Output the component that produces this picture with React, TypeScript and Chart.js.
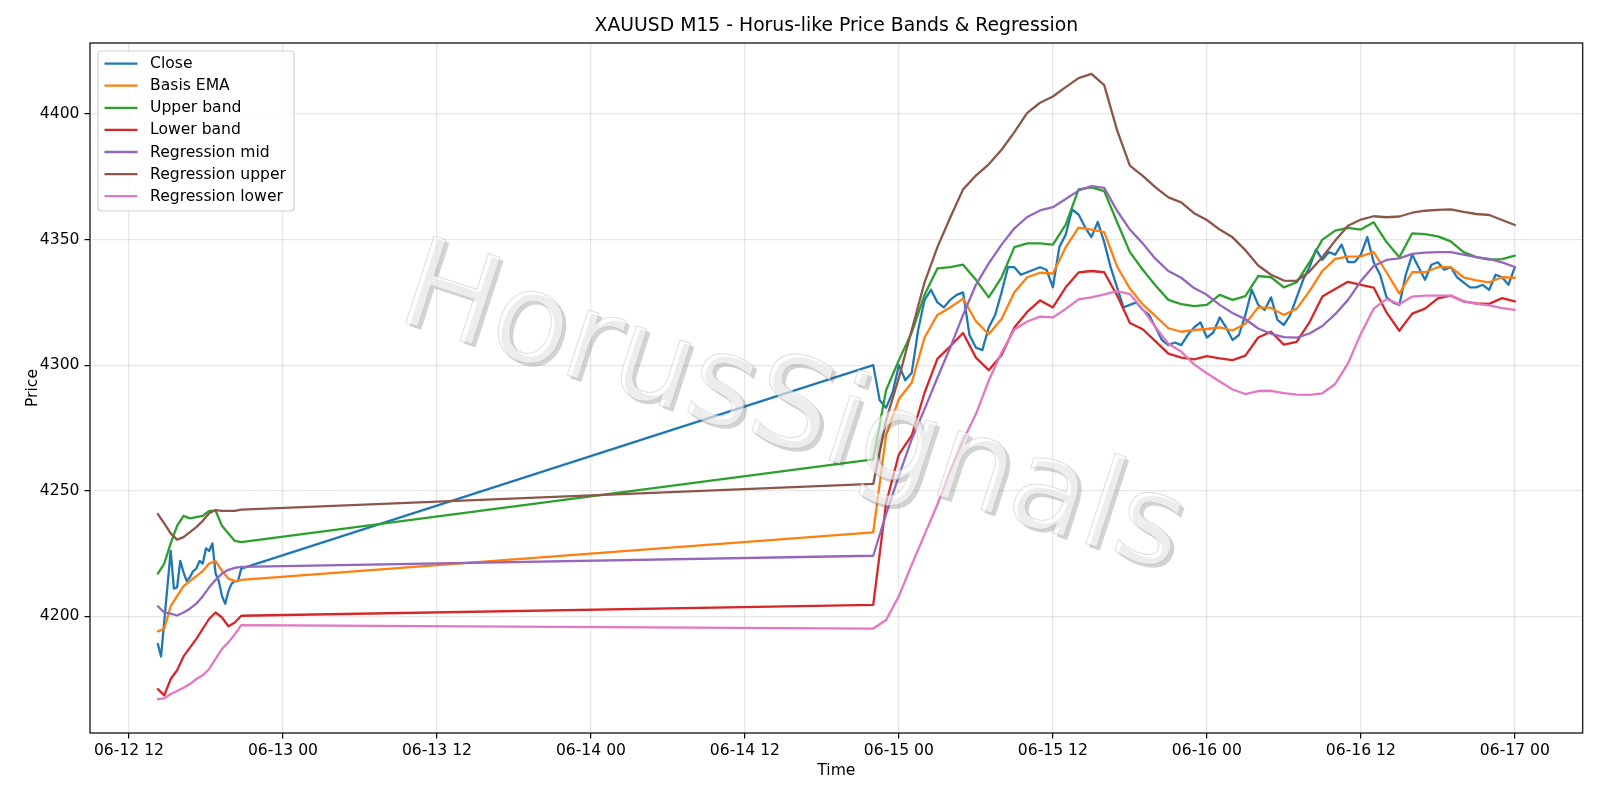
import React, { useEffect, useRef } from 'react';
import { Chart, registerables } from 'chart.js';

Chart.register(...registerables);

const FONT = 'DejaVu Sans';
const TITLE = 'XAUUSD M15 - Horus-like Price Bands & Regression';
const WATERMARK = 'HorusSignals';
const X_TITLE = 'Time';
const Y_TITLE = 'Price';

// x axis: hours since 06-12 00:00
const xTickHours = [12, 24, 36, 48, 60, 72, 84, 96, 108, 120];
const xTickLabels = ['06-12 12', '06-13 00', '06-13 12', '06-14 00', '06-14 12', '06-15 00', '06-15 12', '06-16 00', '06-16 12', '06-17 00'];
const yTicks = [4200, 4250, 4300, 4350, 4400];

const seg1Start = 14.25; // 06-12 14:15
const seg2Start = 70; // 06-14 22:00
const closeStep1 = 0.25;
const closeStep2 = 0.5;
const bandStep1 = 0.5;
const bandStep2 = 1;

const closeSeg1 = [4189, 4184, 4198, 4212, 4226, 4211, 4211.5, 4222, 4217.5, 4214, 4215.5, 4218, 4219, 4222, 4221, 4227, 4226, 4229, 4217, 4214, 4208, 4205, 4210, 4213, 4214, 4214, 4219];
const closeSeg2 = [
  4300, 4286, 4283, 4289, 4300, 4294, 4297, 4314, 4326, 4330, 4325, 4323, 4326, 4328, 4329, 4312, 4307, 4306, 4315, 4320,
  4329, 4339, 4339, 4336, 4337, 4338, 4339, 4338, 4331, 4347, 4352, 4362, 4360, 4355, 4351, 4357, 4349, 4339, 4331, 4323,
  4324, 4325, 4322, 4320, 4315, 4310, 4308, 4309, 4308, 4312, 4315, 4317, 4311, 4313, 4319, 4315, 4310, 4312, 4320, 4330,
  4324, 4322, 4327, 4318, 4316, 4320, 4327, 4334, 4339, 4346, 4342, 4345, 4344, 4348, 4341, 4341, 4344, 4351, 4341, 4336,
  4327, 4325, 4324, 4336, 4344, 4339, 4334, 4340, 4341, 4338, 4339, 4335, 4333, 4331, 4331, 4332, 4330, 4336, 4335, 4332,
  4339,
];

const basisSeg1 = [4194, 4195, 4204, 4208, 4212, 4214, 4216, 4218, 4221, 4222, 4218, 4215, 4214, 4214.5];
const basisSeg2 = [
  4233.4, 4272, 4286.5, 4293, 4311, 4320, 4323, 4326.5, 4317.5, 4312.3,
  4318.4, 4329, 4335, 4336.8, 4336.5, 4347, 4354.8, 4354, 4353, 4339.3,
  4330.5, 4324.2, 4319.5, 4314.7, 4313.3, 4314, 4314.4, 4315, 4313.8, 4316.5,
  4323, 4322.8, 4320, 4322.5, 4329.5, 4337.5, 4342.3, 4343.2, 4343.3, 4345,
  4337, 4328.5, 4337, 4337, 4339, 4339, 4335, 4333.8, 4333, 4335,
  4334.8,
];

const upperSeg1 = [4217, 4221, 4229, 4236, 4240, 4239, 4239.5, 4240, 4242, 4242, 4236, 4233, 4230, 4229.5];
const upperSeg2 = [
  4262.5, 4290, 4302, 4313, 4328, 4338.5, 4339, 4340, 4334, 4327,
  4335, 4347, 4348.5, 4348.5, 4348, 4356, 4370, 4370.8, 4369.3, 4357,
  4345, 4338, 4331.7, 4326, 4324.3, 4323.5, 4324, 4328, 4326, 4327.5,
  4335.5, 4335, 4331, 4333, 4341, 4350, 4353.6, 4354.7, 4354, 4356.9,
  4349, 4343, 4352.5, 4352.2, 4351.3, 4349.3, 4345, 4343, 4342, 4342.2,
  4343.6,
];

const lowerSeg1 = [4171, 4168.5, 4175, 4178.5, 4184, 4187.5, 4191, 4195, 4199, 4201.5, 4199.5, 4196, 4197.5, 4200.2];
const lowerSeg2 = [
  4204.5, 4245, 4264.5, 4272, 4289, 4302.5, 4307.5, 4312.8, 4303, 4298,
  4304, 4315, 4321.2, 4325.8, 4323, 4331, 4336.9, 4337.5, 4337, 4327.8,
  4316.8, 4314.3, 4309.5, 4304.6, 4303, 4302.3, 4303.6, 4302.7, 4302, 4303.8,
  4311, 4313.3, 4308.2, 4309.3, 4317.1, 4327.3, 4330.3, 4333.2, 4332, 4330.9,
  4321, 4313.7, 4320.5, 4322.5, 4326.6, 4327.7, 4325.4, 4324.6, 4324.4, 4326.7,
  4325.4,
];

const regMidSeg1 = [4204, 4201.5, 4201, 4200.3, 4201.5, 4203, 4205, 4208, 4211.5, 4214.5, 4217, 4218.5, 4219.3, 4219.7];
const regMidSeg2 = [
  4224.1, 4240.7, 4256, 4270.5, 4282.5, 4295, 4307, 4320, 4332, 4340.5,
  4348, 4354.5, 4359, 4361.6, 4362.9, 4366.2, 4369.5, 4371.3, 4370.6, 4361.5,
  4354, 4348.5, 4342.3, 4337.5, 4334.8, 4330.7, 4328, 4324, 4320.8, 4318.3,
  4314.6, 4312.5, 4311.2, 4311, 4312.6, 4315.6, 4320.3, 4326, 4333.5, 4339.5,
  4341.9, 4342.5, 4344.3, 4344.8, 4345, 4345, 4344, 4343, 4342.3, 4340.9,
  4339.1,
];

const regUpperSeg1 = [4240.7, 4237, 4233, 4230.5, 4231.5, 4233.5, 4235.5, 4238, 4241, 4242.3, 4242, 4242, 4242, 4242.5];
const regUpperSeg2 = [
  4252.7, 4278, 4295, 4314, 4333, 4347, 4358.8, 4370, 4375.5, 4380,
  4385.8, 4392.8, 4400.5, 4404.5, 4407, 4410.7, 4414.3, 4416, 4411.5, 4393.6,
  4379.5, 4375.4, 4370.8, 4366.8, 4364.8, 4360.5, 4357.8, 4354, 4350.9, 4345.8,
  4339.7, 4336, 4333.7, 4333.6, 4337.3, 4343, 4349.6, 4355.5, 4358, 4359.3,
  4358.9, 4359.2, 4360.7, 4361.5, 4361.8, 4362, 4361, 4360.2, 4359.8, 4357.8,
  4355.8,
];

const regLowerSeg1 = [4167, 4167.3, 4169, 4170.2, 4171.5, 4173, 4175, 4176.5, 4179, 4183, 4187, 4189.6, 4192.8, 4196.5];
const regLowerSeg2 = [
  4195.1, 4198.5, 4208, 4220.5, 4232.5, 4244.5, 4258, 4270, 4280.5, 4293.8,
  4305, 4314.2, 4317.4, 4319.3, 4319, 4322.4, 4326.2, 4327, 4328.2, 4329.5,
  4328.3, 4322.2, 4315.1, 4308.5, 4305.4, 4300.3, 4296.8, 4293.5, 4290.3, 4288.5,
  4289.7, 4289.8, 4288.9, 4288.3, 4288.2, 4288.8, 4292.5, 4300.7, 4312.5, 4322.5,
  4326.3, 4324.3, 4327.3, 4327.7, 4327.7, 4327.7, 4325.4, 4324.4, 4323.8, 4322.7,
  4322,
];

function pts(s1: number[], step1: number, s2: number[], step2: number) {
  return [
    ...s1.map((y, i) => ({ x: seg1Start + i * step1, y })),
    ...s2.map((y, i) => ({ x: seg2Start + i * step2, y })),
  ];
}

const seriesDefs = [
  { label: 'Close', color: '#1f77b4', data: pts(closeSeg1, closeStep1, closeSeg2, closeStep2) },
  { label: 'Basis EMA', color: '#ff7f0e', data: pts(basisSeg1, bandStep1, basisSeg2, bandStep2) },
  { label: 'Upper band', color: '#2ca02c', data: pts(upperSeg1, bandStep1, upperSeg2, bandStep2) },
  { label: 'Lower band', color: '#d62728', data: pts(lowerSeg1, bandStep1, lowerSeg2, bandStep2) },
  { label: 'Regression mid', color: '#9467bd', data: pts(regMidSeg1, bandStep1, regMidSeg2, bandStep2) },
  { label: 'Regression upper', color: '#8c564b', data: pts(regUpperSeg1, bandStep1, regUpperSeg2, bandStep2) },
  { label: 'Regression lower', color: '#e377c2', data: pts(regLowerSeg1, bandStep1, regLowerSeg2, bandStep2) },
];

const framePlugin = {
  id: 'frameAndTitle',
  afterDraw(chart: any) {
    const { ctx, chartArea: a } = chart;
    ctx.save();
    ctx.strokeStyle = '#000';
    ctx.lineWidth = 1.2;
    ctx.strokeRect(a.left, a.top, a.right - a.left, a.bottom - a.top);
    ctx.fillStyle = '#000';
    ctx.font = `18.8px "${FONT}"`;
    ctx.textAlign = 'center';
    ctx.textBaseline = 'middle';
    ctx.fillText(TITLE, (a.left + a.right) / 2, 26);
    ctx.restore();
  },
};

const watermarkPlugin = {
  id: 'watermark',
  afterDatasetsDraw(chart: any) {
    const { ctx } = chart;
    const ang = (18 * Math.PI) / 180;
    const cx = 792;
    const cy = 414;
    ctx.save();
    ctx.translate(cx, cy);
    ctx.rotate(ang);
    ctx.font = `125px "${FONT}"`;
    ctx.textAlign = 'center';
    ctx.textBaseline = 'middle';
    const d = 3.4;
    const ox = d * Math.cos(ang) + d * Math.sin(ang);
    const oy = -d * Math.sin(ang) + d * Math.cos(ang);
    ctx.fillStyle = 'rgba(70,70,70,0.24)';
    ctx.fillText(WATERMARK, ox, oy);
    ctx.fillStyle = 'rgba(255,255,255,0.6)';
    ctx.fillText(WATERMARK, 0, 0);
    ctx.strokeStyle = 'rgba(170,170,170,0.38)';
    ctx.lineWidth = 1;
    ctx.strokeText(WATERMARK, 0, 0);
    ctx.restore();
  },
};

const legendPlugin = {
  id: 'mplLegend',
  afterDraw(chart: any) {
    const { ctx, chartArea: a } = chart;
    const x0 = a.left + 8;
    const y0 = a.top + 8;
    const w = 196;
    const h = 160;
    ctx.save();
    ctx.beginPath();
    ctx.roundRect(x0, y0, w, h, 3);
    ctx.fillStyle = 'rgba(255,255,255,0.8)';
    ctx.fill();
    ctx.strokeStyle = 'rgba(204,204,204,0.9)';
    ctx.lineWidth = 1.2;
    ctx.stroke();
    ctx.font = `15.6px "${FONT}"`;
    ctx.textAlign = 'left';
    ctx.textBaseline = 'middle';
    chart.data.datasets.forEach((ds: any, i: number) => {
      const y = y0 + 12.6 + i * 22.1;
      ctx.strokeStyle = ds.borderColor;
      ctx.lineWidth = 2.3;
      ctx.beginPath();
      ctx.moveTo(x0 + 6.5, y);
      ctx.lineTo(x0 + 39.5, y);
      ctx.stroke();
      ctx.fillStyle = '#000';
      ctx.fillText(ds.label, x0 + 52, y + 0.5);
    });
    ctx.restore();
  },
};

export default function App() {
  const ref = useRef<HTMLCanvasElement>(null);
  useEffect(() => {
    document.body.style.margin = '0';
    const canvas = ref.current!;
    const n = seriesDefs.length;
    const chart = new Chart(canvas, {
      type: 'line',
      data: {
        datasets: seriesDefs.map((s, i) => ({
          label: s.label,
          data: s.data,
          borderColor: s.color,
          backgroundColor: s.color,
          borderWidth: 2.3,
          pointRadius: 0,
          tension: 0,
          fill: false,
          order: n - i,
          borderJoinStyle: 'round',
          borderCapStyle: 'round',
        })),
      },
      options: {
        animation: false,
        responsive: false,
        devicePixelRatio: 1,
        events: [],
        layout: { padding: { left: 0, right: 17.3, top: 43, bottom: 0 } },
        plugins: { legend: { display: false }, title: { display: false }, tooltip: { enabled: false } },
        scales: {
          x: {
            type: 'linear',
            min: 8.9625,
            max: 125.2875,
            afterBuildTicks: (scale: any) => {
              scale.ticks = xTickHours.map((v) => ({ value: v }));
            },
            afterFit: (scale: any) => {
              scale.height = 67;
            },
            ticks: {
              autoSkip: false,
              maxRotation: 0,
              padding: 3,
              color: '#000',
              font: { family: FONT, size: 15.6 },
              callback: (v: any) => {
                const i = xTickHours.indexOf(Number(v));
                return i >= 0 ? xTickLabels[i] : '';
              },
            },
            grid: { color: 'rgba(176,176,176,0.3)', lineWidth: 1.25, tickColor: '#000', tickWidth: 1.2, tickLength: 5.5 },
            border: { display: false },
            title: { display: true, text: X_TITLE, color: '#000', font: { family: FONT, size: 15.6 }, padding: { top: 0, bottom: 19.6 } },
          },
          y: {
            type: 'linear',
            min: 4153.5,
            max: 4428.3,
            afterBuildTicks: (scale: any) => {
              scale.ticks = yTicks.map((v) => ({ value: v }));
            },
            afterFit: (scale: any) => {
              scale.width = 90;
            },
            ticks: {
              padding: 5,
              color: '#000',
              font: { family: FONT, size: 15.6 },
              callback: (v: any) => String(v),
            },
            grid: { color: 'rgba(176,176,176,0.3)', lineWidth: 1.25, tickColor: '#000', tickWidth: 1.2, tickLength: 5.5 },
            border: { display: false },
            title: { display: true, text: Y_TITLE, color: '#000', font: { family: FONT, size: 15.6 }, padding: { top: 23.6, bottom: 0 } },
          },
        },
      },
      plugins: [watermarkPlugin, framePlugin, legendPlugin],
    } as any);
    return () => chart.destroy();
  }, []);
  return (
    <div style={{ width: 1600, height: 800 }}>
      <canvas ref={ref} width={1600} height={800} style={{ display: 'block', width: 1600, height: 800 }} />
    </div>
  );
}
